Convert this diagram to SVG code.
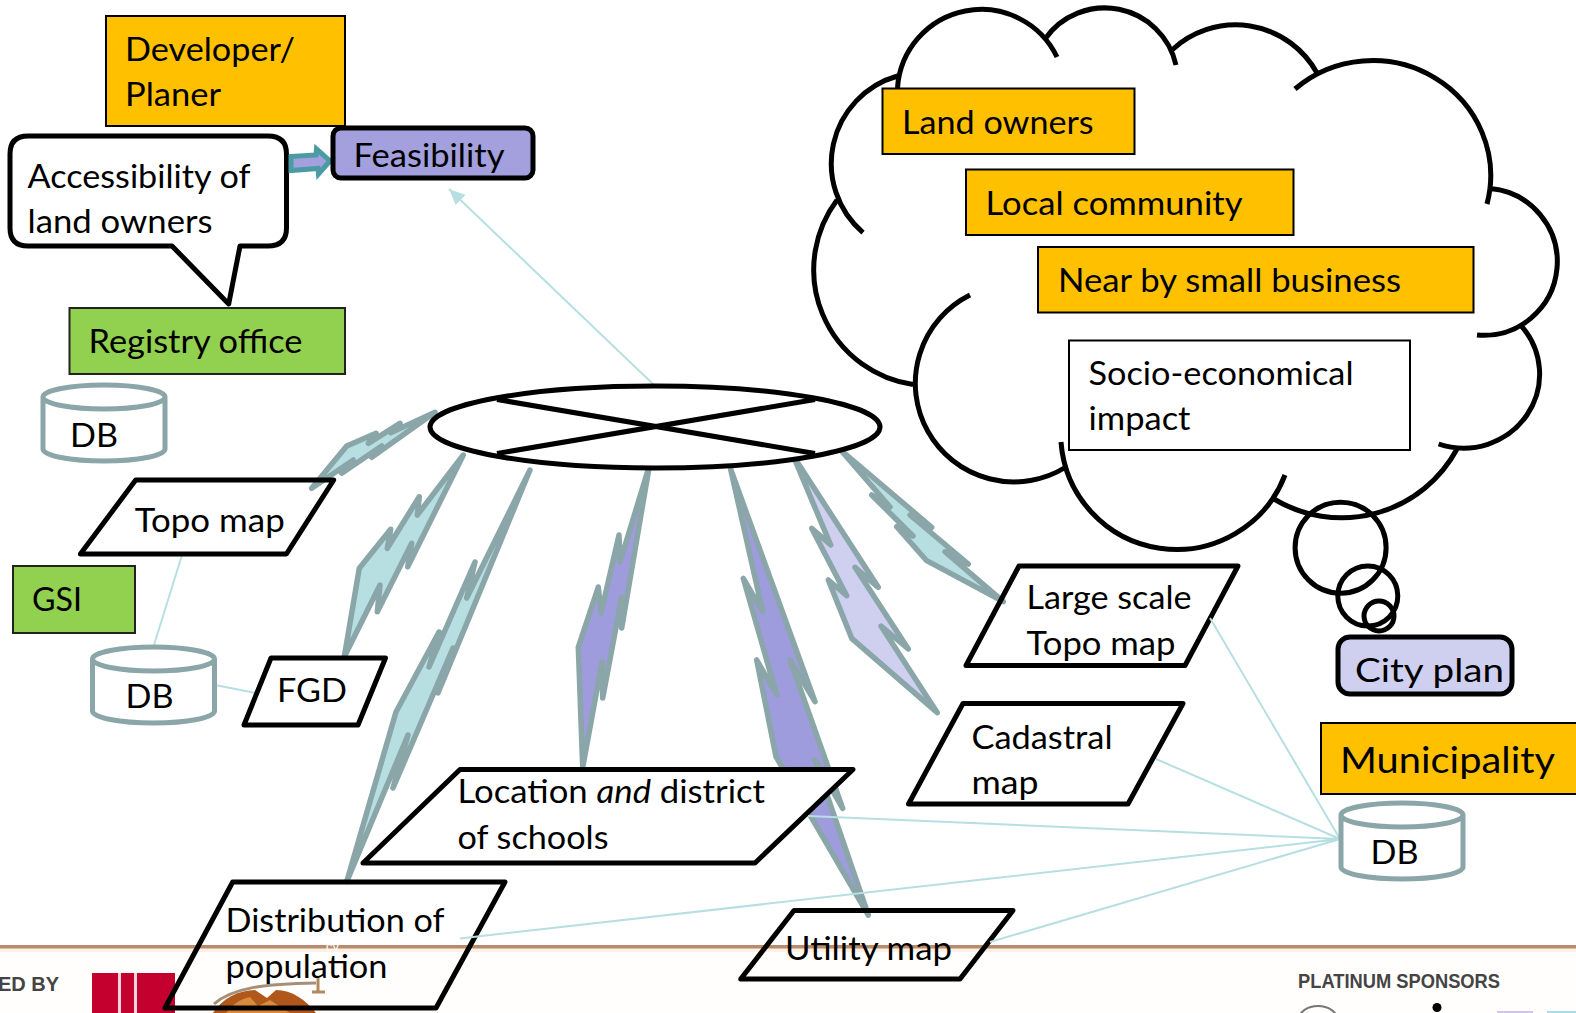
<svg xmlns="http://www.w3.org/2000/svg" width="1576" height="1013" viewBox="0 0 1576 1013">
<style>
text{font-family:Lato,"Liberation Sans",sans-serif;font-size:32.5px;fill:#000}
.org{fill:#ffc000;stroke:#000;stroke-width:2}
.grn{fill:#92d050;stroke:#222;stroke-width:2}
.blk{fill:#fff;stroke:#000;stroke-width:5;stroke-linejoin:round}
.open{fill:none;stroke:#000;stroke-width:5;stroke-linejoin:round}
.bolt{stroke:#8aa6a9;stroke-width:5.5;stroke-linejoin:round}
.tl{fill:#b7dfe2}.pu{fill:#9e9cdc}.la{fill:#cfd0ef}
.lnk{fill:none;stroke:#b7dfe2;stroke-width:2}
.bg{font-family:"Liberation Sans",sans-serif;font-weight:700;font-size:20px;fill:#444}
</style>
<defs>
<marker id="ah" markerUnits="userSpaceOnUse" markerWidth="18" markerHeight="14" refX="16" refY="7" orient="auto"><path d="M0 0L16 7L0 14Z" fill="#b7dfe2"/></marker>
<path id="cyl" d="M0 12A61 12 0 0 1 122 12V64A61 12 0 0 1 0 64ZM0 12A61 12 0 0 0 122 12" fill="#fff" stroke="#8aa6a9" stroke-width="5"/>
</defs>
<g id="backdrop">
<rect x="0" y="948" width="1576" height="65" fill="#fffefc"/>
<rect x="0" y="948" width="1576" height="4" fill="#fdf0e4"/>
<rect x="0" y="945" width="1576" height="3.500" fill="#b98a6c"/>
<text class="bg" x="-2" y="991">ED BY</text>
<rect x="92" y="973" width="83" height="40" fill="#c4002f"/>
<rect x="118" y="973" width="3" height="40" fill="#f6d5dc"/>
<rect x="134" y="973" width="3" height="40" fill="#f6d5dc"/>
<path d="M213 1013C222 999 238 990 255 990L267 998L276 990C292 990 306 1000 316 1013Z" fill="#b0581c"/>
<path d="M226 1013C232 1005 240 999 250 997L258 1006L270 1000L290 1013Z" fill="#d98a3c"/>
<path d="M214 1004C232 988 262 984 316 983" fill="none" stroke="#a58f78" stroke-width="3"/>
<path d="M318 977V992M312 992H325" fill="none" stroke="#b08a5e" stroke-width="3"/>
<text class="bg" x="1298" y="988" textLength="202" lengthAdjust="spacingAndGlyphs">PLATINUM SPONSORS</text>
<circle cx="1437" cy="1007.500" r="4.500" fill="#000"/>
<ellipse cx="1318" cy="1019" rx="19" ry="13" fill="none" stroke="#777" stroke-width="2"/>
<rect x="1497" y="1011" width="36" height="2" fill="#cfc4ea"/>
<rect x="1547" y="1011" width="29" height="2" fill="#a9dce8"/>
</g>
<g id="connectors">
<path class="lnk" d="M654 385L449 189" marker-end="url(#ah)"/>
<path class="lnk" d="M182 555L154 645M215 685L256 693"/>
<g id="bolts">
<polygon class="bolt tl" points="435,412.300 390.700,432.700 400,423.300 368.300,443.300 376,433.300 346.700,446 311.700,488.300 353.300,460 341.700,473.300 381.700,446 371.700,457.300"/>
<polygon class="bolt tl" points="463.300,455 417.300,515 419.300,496.700 387.300,548.300 390.700,529.300 359.300,568.300 344.300,656.700 380,585 377.300,611.700 411.700,543.300 407.700,566.700"/>
<polygon class="bolt tl" points="530,470 466.700,598 475,562 429,667 439,632 396,712 346.700,881.700 408,735 393,788 453,648 438,693"/>
<polygon class="bolt pu" points="649.300,466 620,562 619,535 601,613 598.300,587 578.300,647 582.700,767.300 602,662 602.700,698 621.700,597 621.700,628"/>
<polygon class="bolt pu" points="730.700,469.300 762.700,611.700 743.300,578.300 776.700,695 756.700,660 776,756.700 868.300,915 815,760 842.700,808.300 790,660 815,701.700"/>
<polygon class="bolt la" points="793.300,456 830.700,545 811.700,528.300 846.700,595.700 828.300,580 851.700,638.300 937.300,712.700 881,626 908.300,649 855,567.300 878.300,587.300"/>
<polygon class="bolt tl" points="840.700,450 890,507 871.700,495 913,536 896.700,526.700 926.700,560.700 1003.300,601.700 945,551.700 968.300,564 910,515 931.700,527.300"/>
</g>
</g>
<g id="developer"><rect class="org" x="106" y="16" width="239" height="110"/>
<text x="125" y="61" textLength="170" lengthAdjust="spacingAndGlyphs">Developer/</text><text x="125" y="105.500" textLength="96" lengthAdjust="spacingAndGlyphs">Planer</text></g>
<g id="accessibility"><path class="blk" d="M28 136H268Q286.500 136 286.500 154V228Q286.500 246 268 246H240L228.700 304L172 246H28Q10 246 10 228V154Q10 136 28 136Z"/>
<text x="27.500" y="188" textLength="223" lengthAdjust="spacingAndGlyphs">Accessibility of</text><text x="27.500" y="233" textLength="185" lengthAdjust="spacingAndGlyphs">land owners</text></g>
<g id="block-arrow"><polygon points="291,156.500 316,155 316.500,149 330,161 318.500,174 318,168.500 291,170.500" fill="#a3a0dd" stroke="#4a9ba3" stroke-width="5"/></g>
<g id="feasibility"><rect x="333" y="128" width="200" height="50" rx="8" fill="#a3a0dd" stroke="#000" stroke-width="5"/>
<text x="353.500" y="167" textLength="151" lengthAdjust="spacingAndGlyphs">Feasibility</text></g>
<g id="registry"><rect class="grn" x="69.500" y="308" width="275.500" height="66"/>
<text x="88.500" y="353" textLength="214" lengthAdjust="spacingAndGlyphs">Registry office</text></g>
<g id="db1"><use href="#cyl" x="43" y="385"/><text x="70" y="447" textLength="48" lengthAdjust="spacingAndGlyphs">DB</text></g>
<g id="hub"><ellipse cx="655" cy="427" rx="225" ry="41" class="blk"/><path class="open" d="M497 399.500L815 453.500M497 453.500L815 399.500"/></g>
<g id="topo"><polygon class="open" points="135.700,480 333.700,480 286.400,554 80.400,554"/><text x="134.700" y="532" textLength="150" lengthAdjust="spacingAndGlyphs">Topo map</text></g>
<g id="gsi"><rect class="grn" x="13" y="566" width="122" height="67"/><text x="32" y="611" textLength="50" lengthAdjust="spacingAndGlyphs">GSI</text></g>
<g id="db2"><use href="#cyl" x="92.500" y="647"/><text x="125.600" y="707.500" textLength="48" lengthAdjust="spacingAndGlyphs">DB</text></g>
<g id="fgd"><polygon class="open" points="271,658 385.500,658 358,725 244,725"/><text x="277" y="702" textLength="70" lengthAdjust="spacingAndGlyphs">FGD</text></g>
<g id="large-topo"><polygon class="open" points="1019,566 1238,566 1185,665.500 966,665.500"/><text x="1026.500" y="609" textLength="165" lengthAdjust="spacingAndGlyphs">Large scale</text><text x="1026.500" y="655" textLength="149" lengthAdjust="spacingAndGlyphs">Topo map</text></g>
<g id="cadastral"><polygon class="open" points="963,703.500 1183,703.500 1128,804 908.500,804"/><text x="971.500" y="749" textLength="141" lengthAdjust="spacingAndGlyphs">Cadastral</text><text x="971.500" y="794" textLength="67" lengthAdjust="spacingAndGlyphs">map</text></g>
<g id="location"><polygon class="blk" points="460,769.500 853,769.500 755,863 363,863"/><text x="457.500" y="803" textLength="307.500" lengthAdjust="spacingAndGlyphs">Location <tspan font-style="italic">and</tspan> district</text><text x="457.500" y="849" textLength="151" lengthAdjust="spacingAndGlyphs">of schools</text></g>
<g id="distribution"><polygon class="open" points="232.700,882 505,882 436,1008 165,1008"/><text x="225.500" y="932" textLength="219" lengthAdjust="spacingAndGlyphs">Distribution of</text><text x="225.500" y="978" textLength="162" lengthAdjust="spacingAndGlyphs">population</text><text x="326" y="951" style="font-family:'Liberation Sans',sans-serif;font-size:13px;fill:#fff">cv</text></g>
<g id="utility"><polygon class="open" points="794,910.500 1013,910.500 960,979 740.700,979"/><text x="785" y="960" textLength="167" lengthAdjust="spacingAndGlyphs">Utility map</text></g>
<g id="db-links"><path class="lnk" d="M1210 618L1340 839M1156 759L1340 839M808 816L1340 839M460 938.500L1340 839M990 942L1340 839"/></g>
<g id="cloud"><path class="open" stroke-width="5.500" d="M897.500 88A84 84 0 0 1 1057 57M1045 39A73 73 0 0 1 1176 65M1172 50A93 93 0 0 1 1317 73M1295 89A118 115 0 0 1 1487 204M1490.600 188.600A70 70 0 0 1 1477 335M1520 324.500A76 74 0 0 1 1438.600 444M1457 449A131 131 0 0 1 1274 499M1285 475A116 116 0 0 1 1061 442M1066 467A98.600 98.600 0 1 1 970 295M913 384.500A116 116 0 0 1 837 200M863 232.600A91 91 0 0 1 897.500 76"/>
<circle class="open" cx="1340.600" cy="547.700" r="45.500"/><circle class="open" cx="1367.800" cy="596" r="30"/><circle class="open" cx="1379" cy="616" r="15"/></g>
<g id="land-owners"><rect class="org" x="882.500" y="88.500" width="252" height="65.500"/><text x="902" y="134" textLength="191.600" lengthAdjust="spacingAndGlyphs">Land owners</text></g>
<g id="local-community"><rect class="org" x="966" y="169.500" width="327.500" height="65.500"/><text x="985.500" y="215" textLength="257" lengthAdjust="spacingAndGlyphs">Local community</text></g>
<g id="small-business"><rect class="org" x="1038" y="247" width="435.500" height="65.500"/><text x="1058" y="292.400" textLength="343" lengthAdjust="spacingAndGlyphs">Near by small business</text></g>
<g id="socio"><rect x="1069" y="340.500" width="341" height="109.500" fill="#fff" stroke="#000" stroke-width="2"/><text x="1088.500" y="385" textLength="265" lengthAdjust="spacingAndGlyphs">Socio-economical</text><text x="1088.500" y="429.600" textLength="102" lengthAdjust="spacingAndGlyphs">impact</text></g>
<g id="city-plan"><rect x="1338" y="637" width="174" height="57" rx="12" fill="#cfd0ef" stroke="#000" stroke-width="5"/><text x="1355" y="682" textLength="149" lengthAdjust="spacingAndGlyphs">City plan</text></g>
<g id="municipality"><rect class="org" x="1321" y="723" width="257" height="71"/><text x="1340" y="773" style="font-size:36px" textLength="215" lengthAdjust="spacingAndGlyphs">Municipality</text></g>
<g id="db3"><use href="#cyl" x="1341" y="803"/><text x="1370.500" y="864" textLength="48" lengthAdjust="spacingAndGlyphs">DB</text></g>
</svg>
